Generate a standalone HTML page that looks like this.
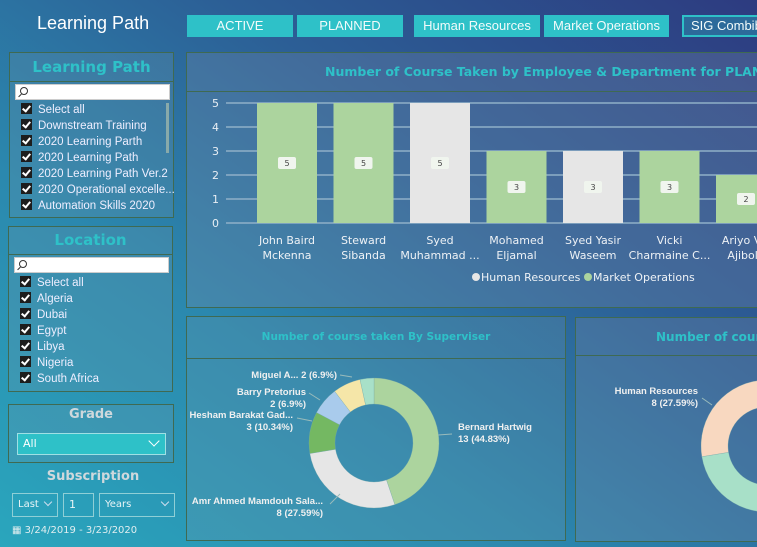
<!DOCTYPE html>
<html><head><meta charset="utf-8"><style>
*{box-sizing:border-box;margin:0;padding:0}
body{width:757px;height:547px;overflow:hidden;font-family:"DejaVu Sans","Liberation Sans",sans-serif;position:relative;
background:linear-gradient(35deg,#2aa6bd 0%,#2b88ae 35%,#2c5f96 65%,#2d3b80 100%)}
.abs{position:absolute}
.btn{position:absolute;top:15px;height:22px;background:#2ec1c8;color:#f2fbfb;font-size:13px;font-family:"Liberation Sans",sans-serif;text-align:center;line-height:22px;white-space:nowrap;overflow:hidden}
.panel{position:absolute;border:1px solid #3f6a52;background:rgba(110,150,170,0.25)}
.ph{position:absolute;left:0;right:0;top:0;border-bottom:1px solid #3f6a52;color:#2ec1c8;font-weight:bold;text-align:center;white-space:nowrap;overflow:hidden}
.search{position:absolute;left:5px;right:3px;height:16px;background:#fff;border:1px solid #ccc}
.search::before{content:"";position:absolute;left:4px;top:2px;width:6px;height:6px;border:1px solid #333;border-radius:50%}
.search::after{content:"";position:absolute;left:2px;top:10px;width:4px;height:1px;background:#333;transform:rotate(-45deg)}
.item{position:absolute;left:11px;font-size:11.5px;color:#eef;white-space:nowrap;font-family:"Liberation Sans",sans-serif}
.item i{display:inline-block;width:11px;height:11px;background:#1d1d1d;vertical-align:-1px;margin-right:6px;position:relative}
.item i::after{content:"";position:absolute;left:3px;top:1px;width:3px;height:6px;border:solid #fff;border-width:0 2px 2px 0;transform:rotate(40deg)}
.sel{position:absolute;top:493px;height:24px;border:1px solid #8fcfd6;color:#e8f4f6;font-size:10px;line-height:22px;padding-left:5px}
</style></head><body>
<div class="abs" style="left:37px;top:13px;color:#fff;font-size:18px;font-family:'Liberation Sans',sans-serif">Learning Path</div>
<div class="btn" style="left:187px;width:106px">ACTIVE</div>
<div class="btn" style="left:297px;width:106px">PLANNED</div>
<div class="btn" style="left:414px;width:126px">Human Resources</div>
<div class="btn" style="left:544px;width:125px">Market Operations</div>
<div class="btn" style="left:682px;width:90px;background:#2c6a9a;border:2px solid #2ec1c8;line-height:18px;text-align:left;padding-left:7px">SIG Combib</div>

<div class="panel" style="left:9px;top:52px;width:165px;height:166px">
<div class="ph" style="height:29px;line-height:28px;font-size:15px">Learning Path</div>
<div class="search" style="top:31px"></div>
<div class="abs" style="left:156px;top:50px;width:3px;height:50px;background:#8aa"></div>
<div class="item" style="top:50px"><i></i>Select all</div>
<div class="item" style="top:66px"><i></i>Downstream Training</div>
<div class="item" style="top:82px"><i></i>2020 Learning Parth</div>
<div class="item" style="top:98px"><i></i>2020 Learning Path</div>
<div class="item" style="top:114px"><i></i>2020 Learning Path Ver.2</div>
<div class="item" style="top:130px"><i></i>2020 Operational excelle...</div>
<div class="item" style="top:146px"><i></i>Automation Skills 2020</div>
</div>

<div class="panel" style="left:8px;top:226px;width:165px;height:166px">
<div class="ph" style="height:28px;line-height:27px;font-size:15px">Location</div>
<div class="search" style="top:30px"></div>
<div class="item" style="top:49px"><i></i>Select all</div>
<div class="item" style="top:65px"><i></i>Algeria</div>
<div class="item" style="top:81px"><i></i>Dubai</div>
<div class="item" style="top:97px"><i></i>Egypt</div>
<div class="item" style="top:113px"><i></i>Libya</div>
<div class="item" style="top:129px"><i></i>Nigeria</div>
<div class="item" style="top:145px"><i></i>South Africa</div>
</div>

<div class="panel" style="left:8px;top:404px;width:166px;height:59px">
<div class="abs" style="left:0;right:0;top:2px;text-align:center;color:#cfd8dc;font-weight:bold;font-size:13px">Grade</div>
<div class="abs" style="left:8px;top:28px;width:149px;height:22px;background:#2ec1c8;border:1px solid #9fe0e4;color:#fff;font-size:11px;line-height:20px;padding-left:5px">All<span style="position:absolute;right:7px;top:3px;width:8px;height:8px;border:solid #fff;border-width:0 1px 1px 0;transform:rotate(45deg)"></span></div>
</div>
<div class="abs" style="left:0;width:186px;top:469px;text-align:center;color:#cfd8dc;font-weight:bold;font-size:13px">Subscription</div>
<div class="sel" style="left:12px;width:46px">Last<span style="position:absolute;right:6px;top:5px;width:6px;height:6px;border:solid #cde;border-width:0 1px 1px 0;transform:rotate(45deg)"></span></div>
<div class="sel" style="left:63px;width:31px;font-size:11px">1</div>
<div class="sel" style="left:99px;width:76px">Years<span style="position:absolute;right:6px;top:5px;width:6px;height:6px;border:solid #cde;border-width:0 1px 1px 0;transform:rotate(45deg)"></span></div>
<div class="abs" style="left:12px;top:525px;font-size:10px;color:#e0eef0">&#9638; 3/24/2019 - 3/23/2020</div>

<div class="panel" style="left:186px;top:52px;width:580px;height:256px;background:rgba(120,140,170,0.3)">
<div class="ph" style="height:39px;line-height:38px;font-size:12.5px;text-align:left;padding-left:138px">Number of Course Taken by Employee &amp; Department for PLANNED</div>
</div>
<svg class="abs" style="left:0;top:0" width="757" height="547" id="bars"></svg>

<div class="panel" style="left:186px;top:316px;width:380px;height:225px">
<div class="ph" style="height:42px;line-height:40px;font-size:10.5px">Number of course taken By Superviser</div>
</div>
<div class="panel" style="left:575px;top:317px;width:200px;height:225px;background:rgba(120,140,170,0.3)">
<div class="ph" style="height:38px;line-height:38px;font-size:12px;text-align:left;padding-left:80px">Number of course taken by Department</div>
</div>
<svg class="abs" style="left:0;top:0" width="757" height="547" id="donuts"></svg>

<script>
const employees=[["John Baird","Mckenna"],["Steward","Sibanda"],["Syed","Muhammad ..."],["Mohamed","Eljamal"],["Syed Yasir","Waseem"],["Vicki","Charmaine C..."],["Ariyo Vic","Ajibola"]];
const courseCounts=[5,5,5,3,3,3,2];
const departments=["MO","MO","HR","MO","HR","MO","MO"];
const yTicks=[0,1,2,3,4,5];
const supervisors=["Bernard Hartwig","Amr Ahmed Mamdouh Sala...","Hesham Barakat Gad...","Barry Pretorius","Miguel A...","Other"];
const supervisorCounts=[13,8,3,2,2,1];
const deptNames=["Market Operations","Other","Human Resources"];
const deptCounts=[13,8,8];

const NS="http://www.w3.org/2000/svg";
function mk(p,tag,at,txt){const e=document.createElementNS(NS,tag);for(const k in at)e.setAttribute(k,at[k]);if(txt!==undefined)e.textContent=txt;p.appendChild(e);return e;}
const bs=document.getElementById('bars');
const y=v=>223-v*24, x=i=>257+i*76.5;
yTicks.forEach(t=>{
 const g=mk(bs,'line',{x1:226,x2:757,y1:y(t),y2:y(t),stroke:'#8fb0c8','stroke-width':1.5});
 
 
 const l=mk(bs,'text',{x:219,y:y(t)+4,'text-anchor':'end','font-size':11,fill:'#e8eef4','font-family':'DejaVu Sans, sans-serif'},t);
 
 
});
const colD={MO:'#acd49e',HR:'#e6e6e6'};
courseCounts.forEach((v,i)=>{
 const r=mk(bs,'rect',{x:x(i),y:y(v),width:60,height:v*24,fill:colD[departments[i]]});
 
 
 const cy=y(v/2);
 const b=mk(bs,'rect',{x:x(i)+21,y:cy-6,width:18,height:12,rx:2,fill:'#f0f5ee'});
 
 
 const t=mk(bs,'text',{x:x(i)+30,y:cy+3,'text-anchor':'middle','font-size':8,fill:'#444','font-family':'DejaVu Sans, sans-serif'},v);
 
 
 employees[i].forEach((s,j)=>{
  const a=mk(bs,'text',{x:x(i)+30,y:244+j*15,'text-anchor':'middle','font-size':11,fill:'#eef2f6','font-family':'DejaVu Sans, sans-serif'},s);
  
  
 });
});
[['Human Resources','#e6e6e6',476],['Market Operations','#acd49e',588]].forEach(([n,c,lx])=>{
 const d=mk(bs,'circle',{cx:lx,cy:277,r:4,fill:c});
 
 
 const t=mk(bs,'text',{x:lx+5,y:281,'font-size':11,fill:'#eef2f6','font-family':'DejaVu Sans, sans-serif'},n);
 
 
});

const ds=document.getElementById('donuts');
function arc(cx,cy,r,ri,a0,a1){const p=(a,rr)=>[cx+rr*Math.sin(a),cy-rr*Math.cos(a)];const l=(a1-a0)>Math.PI?1:0;
 const [x0,y0]=p(a0,r),[x1,y1]=p(a1,r),[x2,y2]=p(a1,ri),[x3,y3]=p(a0,ri);
 return `M${x0},${y0}A${r},${r} 0 ${l} 1 ${x1},${y1}L${x2},${y2}A${ri},${ri} 0 ${l} 0 ${x3},${y3}Z`;}
function donut(vals,cols,cx,cy,r,ri,name){const tot=vals.reduce((a,b)=>a+b,0);let a=0;
 vals.forEach((v,i)=>{const a1=a+v/tot*2*Math.PI;const p=mk(ds,'path',{d:arc(cx,cy,r,ri,a,a1),fill:cols[i],stroke:'#7aa',"stroke-width":0.3});
 
 
 a=a1;});return tot;}
const tot1=donut(supervisorCounts,['#acd49e','#e6e6e6','#74b862','#a9cbec','#f5e6a8','#a8e0c8'],374,443,65,39,'supervisor');
const tot2=donut(deptCounts,['#c9e3b8','#a8e0c8','#f8d8c0'],767,446,66,39,'department');
function lbl(lines,lx,ly,anchor){lines.forEach((s,j)=>{const t=mk(ds,'text',{x:lx,y:ly+j*12,'text-anchor':anchor,'font-size':9.5,fill:'#f0f0f0','font-weight':'bold','font-family':'Liberation Sans, sans-serif'},s);
 
 });}
const pct=(v,t)=>v+' ('+(Math.round(v/t*10000)/100)+'%)';
lbl([supervisors[0],pct(supervisorCounts[0],tot1)],458,430,'start');
lbl([supervisors[1],pct(supervisorCounts[1],tot1)],323,504,'end');
lbl([supervisors[2],pct(supervisorCounts[2],tot1)],293,418,'end');
lbl([supervisors[3],pct(supervisorCounts[3],tot1)],306,395,'end');
lbl([supervisors[4]+' '+pct(supervisorCounts[4],tot1)],337,378,'end');
lbl([deptNames[2],pct(deptCounts[2],tot2)],698,394,'end');
[[438,435,452,434],[330,504,340,494],[297,418,312,421],[309,393,320,400],[340,375,352,377],[702,398,712,405]].forEach(c=>{
 const l=mk(ds,'line',{x1:c[0],y1:c[1],x2:c[2],y2:c[3],stroke:'#9bb',"stroke-width":1});
 
 
});
</script>
</body></html>
